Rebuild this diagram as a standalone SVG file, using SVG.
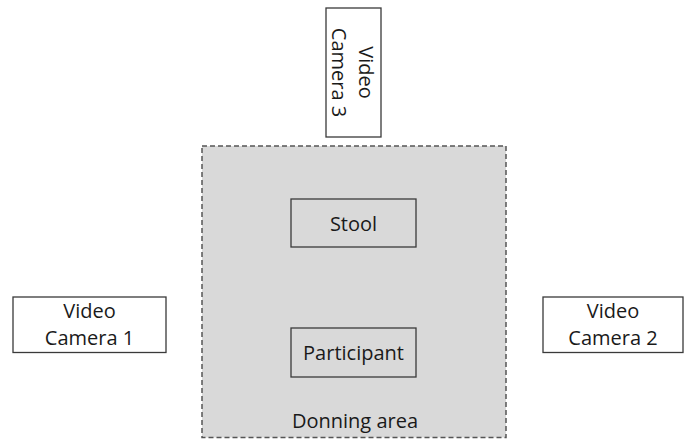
<svg xmlns="http://www.w3.org/2000/svg" width="685" height="439" viewBox="0 0 685 439">
<style>
.box{fill:#fff;stroke:#3a3a3a;stroke-width:1.3}
.inner{fill:none;stroke:#3a3a3a;stroke-width:1.3}
.t{font-family:"Open Sans","Liberation Sans",sans-serif;font-size:20px;fill:#1a1a1a;text-anchor:middle}
</style>
<g id="donning-area">
<rect x="202" y="146" width="304" height="291.5" fill="#d9d9d9" stroke="#555" stroke-width="1.5" stroke-dasharray="5,3"/>
<text class="t" x="355" y="428">Donning area</text>
</g>
<g id="stool">
<rect class="inner" x="291" y="199" width="125" height="48"/>
<text class="t" x="353.5" y="231">Stool</text>
</g>
<g id="participant">
<rect class="inner" x="291" y="328" width="125" height="49"/>
<text class="t" x="353.5" y="360">Participant</text>
</g>
<g id="camera1">
<rect class="box" x="13" y="297" width="153" height="55.5"/>
<text class="t" x="89.5" y="318">Video</text>
<text class="t" x="89.5" y="345">Camera 1</text>
</g>
<g id="camera2">
<rect class="box" x="543" y="297" width="140" height="55.5"/>
<text class="t" x="613" y="318">Video</text>
<text class="t" x="613" y="345">Camera 2</text>
</g>
<g id="camera3">
<rect class="box" x="326" y="8" width="55" height="129"/>
<g transform="translate(359,72.5) rotate(90)">
<text class="t" x="0" y="0">Video</text>
<text class="t" x="0" y="27">Camera 3</text>
</g>
</g>
<g id="connectors"></g>
</svg>
